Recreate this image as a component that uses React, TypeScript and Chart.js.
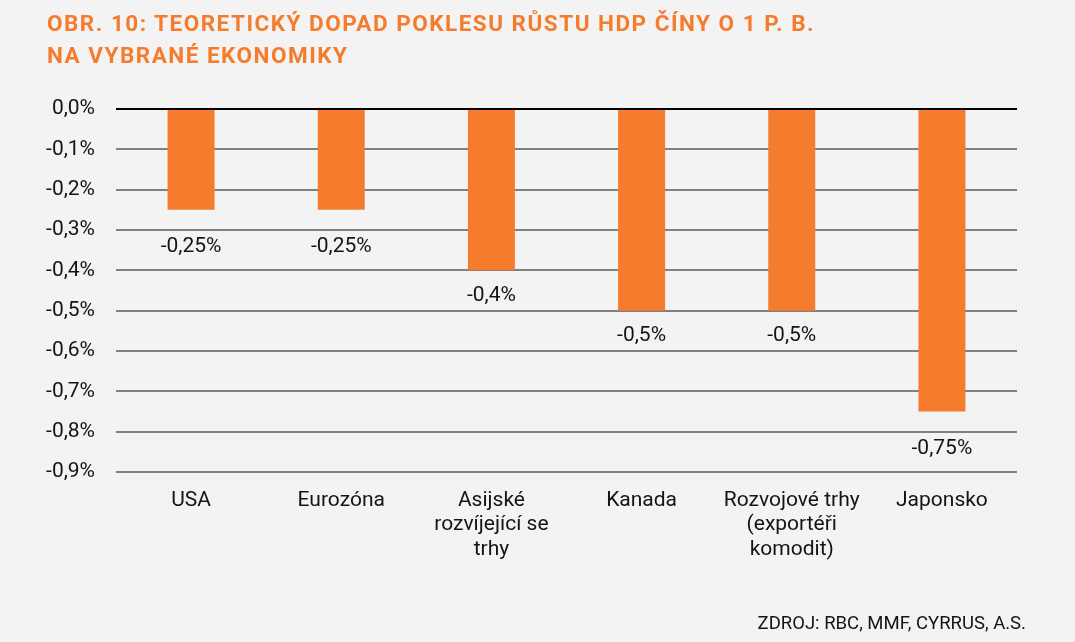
import React, { useEffect, useRef } from "react";
import { Chart, registerables } from "chart.js";

Chart.register(...registerables);

const categories: string[][] = [
  ["USA"],
  ["Eurozóna"],
  ["Asijské", "rozvíjející se", "trhy"],
  ["Kanada"],
  ["Rozvojové trhy", "(exportéři", "komodit)"],
  ["Japonsko"],
];
const values: number[] = [-0.25, -0.25, -0.4, -0.5, -0.5, -0.75];
const valueLabels: string[] = ["-0,25%", "-0,25%", "-0,4%", "-0,5%", "-0,5%", "-0,75%"];
const titleLines: string[] = [
  "OBR. 10: TEORETICKÝ DOPAD POKLESU RŮSTU HDP ČÍNY O 1 P. B.",
  "NA VYBRANÉ EKONOMIKY",
];
const sourceText = "ZDROJ: RBC, MMF, CYRRUS, A.S.";

const ORANGE = "#f47c2c";
const TEXT = "#141414";
const FONT = "Roboto, 'Noto Sans', sans-serif";

export default function App() {
  const ref = useRef<HTMLCanvasElement | null>(null);

  useEffect(() => {
    const canvas = ref.current;
    if (!canvas) return;
    const labelPlugin = {
      id: "valueLabels",
      afterDatasetsDraw(chart: any) {
        const ctx = chart.ctx;
        const meta = chart.getDatasetMeta(0);
        ctx.save();
        ctx.font = `21px ${FONT}`;
        ctx.fillStyle = TEXT;
        ctx.textAlign = "center";
        ctx.textBaseline = "middle";
        meta.data.forEach((bar: any, i: number) => {
          const v = values[i];
          const onGrid = Math.abs(Math.round(v * 10) - v * 10) < 1e-6;
          ctx.fillText(valueLabels[i], bar.x, bar.y + (onGrid ? 25 : 37));
        });
        ctx.restore();
      },
    };
    const chart = new Chart(canvas, {
      type: "bar",
      data: {
        labels: categories,
        datasets: [
          {
            data: values,
            backgroundColor: ORANGE,
            borderWidth: 0,
            categoryPercentage: 1,
            barPercentage: 0.313,
          },
        ],
      },
      options: {
        animation: false,
        responsive: false,
        maintainAspectRatio: false,
        layout: { padding: { top: 109, left: 0, right: 58, bottom: 50 } },
        plugins: {
          legend: { display: false },
          title: { display: false },
          tooltip: { enabled: false },
        },
        scales: {
          x: {
            grid: { display: false, drawTicks: false },
            border: { display: false },
            ticks: {
              color: TEXT,
              font: { family: FONT, size: 21, lineHeight: 1.17 },
              padding: 16,
              maxRotation: 0,
              autoSkip: false,
            },
            afterFit: (scale: any) => {
              scale.height = 120;
            },
          },
          y: {
            min: -0.9,
            max: 0,
            grid: {
              drawTicks: false,
              lineWidth: 2,
              color: (ctx: any) =>
                ctx.tick && Math.abs(ctx.tick.value) < 1e-9 ? "#000000" : "#808080",
            },
            border: { display: false },
            ticks: {
              stepSize: 0.1,
              color: TEXT,
              font: { family: FONT, size: 21 },
              padding: 21,
              callback: (v: any) => Number(v).toFixed(1).replace(".", ",") + "%",
            },
            afterFit: (scale: any) => {
              scale.width = 116;
            },
          },
        },
      },
      plugins: [labelPlugin],
    });
    return () => chart.destroy();
  }, []);

  return (
    <div
      style={{
        position: "fixed",
        left: 0,
        top: 0,
        width: 1075,
        height: 642,
        background: "#f3f3f3",
        overflow: "hidden",
      }}
    >
      <canvas
        ref={ref}
        width={1075}
        height={642}
        style={{ position: "absolute", left: 0, top: 0, width: 1075, height: 642 }}
      />
      <div
        style={{
          position: "absolute",
          left: 47,
          top: 7,
          fontFamily: FONT,
          fontWeight: 700,
          fontSize: 22.5,
          lineHeight: "32px",
          letterSpacing: "1.5px",
          color: ORANGE,
          whiteSpace: "nowrap",
        }}
      >
        {titleLines.map((t, i) => (
          <div key={i}>{t}</div>
        ))}
      </div>
      <div
        style={{
          position: "absolute",
          right: 49,
          top: 611,
          fontFamily: FONT,
          fontSize: 18.5,
          lineHeight: "24px",
          color: TEXT,
          whiteSpace: "nowrap",
        }}
      >
        {sourceText}
      </div>
    </div>
  );
}
